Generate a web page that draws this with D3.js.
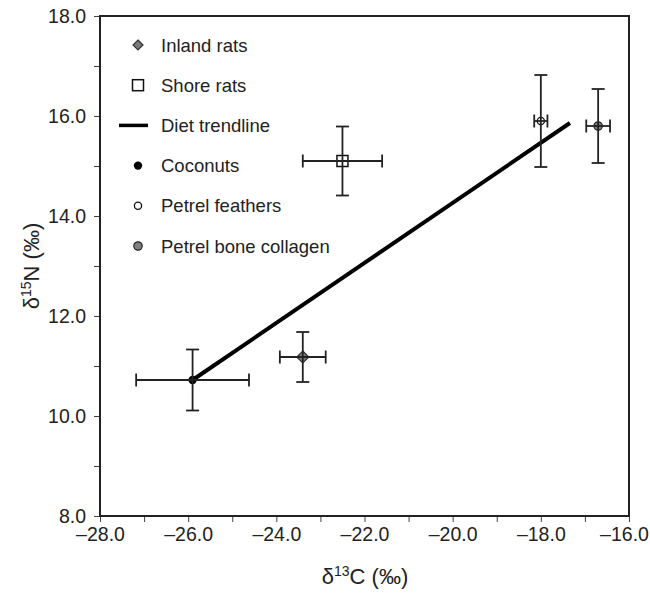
<!DOCTYPE html>
<html>
<head>
<meta charset="utf-8">
<script src="https://cdn.jsdelivr.net/npm/d3@7"></script>
<style>
  body { margin: 0; background: #fff; }
  svg { font-family: "Liberation Sans", Arial, Helvetica, sans-serif; }
</style>
</head>
<body>
<svg id="chart"></svg>
<script>
// data
var groups = ["Inland rats", "Shore rats", "Coconuts", "Petrel feathers", "Petrel bone collagen"];
var d13C = [-23.4, -22.5, -25.9, -18.0, -16.7];
var d13CErr = [0.52, 0.9, 1.28, 0.15, 0.27];
var d15N = [11.18, 15.1, 10.72, 15.9, 15.8];
var d15NErr = [0.5, 0.69, 0.61, 0.92, 0.74];
var trendC = [-25.9, -17.34];
var trendN = [10.72, 15.86];
var xTicks = [-28, -27, -26, -25, -24, -23, -22, -21, -20, -19, -18, -17, -16];
var yTicks = [8, 9, 10, 11, 12, 13, 14, 15, 16, 17, 18];

var width = 650, height = 593;
var plotL = 100, plotR = 629, plotT = 16, plotB = 516;

var svg = d3.select("#chart").attr("width", width).attr("height", height);

var x = d3.scaleLinear().domain([-28, -16]).range([plotL, plotR]);
var y = d3.scaleLinear().domain([8, 18]).range([plotB, plotT]);

function fmt(v) {
  if (v % 2 !== 0) return "";
  return (v < 0 ? "\u2013" + Math.abs(v).toFixed(1) : v.toFixed(1));
}

// axes
var xAxis = svg.append("g")
  .attr("transform", "translate(0," + plotB + ")")
  .call(d3.axisBottom(x).tickValues(xTicks).tickSize(6).tickPadding(5).tickFormat(fmt));
var yAxis = svg.append("g")
  .attr("transform", "translate(" + plotL + ",0)")
  .call(d3.axisLeft(y).tickValues(yTicks).tickSize(6).tickPadding(8).tickFormat(fmt));

[xAxis, yAxis].forEach(function (a) {
  a.select(".domain").remove();
  a.selectAll("line").attr("stroke", "#444").attr("stroke-width", 1);
  a.selectAll("text").attr("fill", "#222").style("font-size", "19.5px");
});
// keep the last x label inside the picture
xAxis.selectAll(".tick").filter(function (d) { return d === -16; })
  .select("text").attr("dx", "-5");

// frame
svg.append("rect")
  .attr("x", plotL).attr("y", plotT)
  .attr("width", plotR - plotL).attr("height", plotB - plotT)
  .attr("fill", "none").attr("stroke", "#222").attr("stroke-width", 2);

// trendline
svg.append("line")
  .attr("x1", x(trendC[0])).attr("y1", y(trendN[0]))
  .attr("x2", x(trendC[1])).attr("y2", y(trendN[1]))
  .attr("stroke", "#000").attr("stroke-width", 4);

// markers
function marker(g, i, cx, cy, legend) {
  if (i === 0) {
    var s = legend ? 5 : 6;
    g.append("path")
      .attr("d", "M" + cx + "," + (cy - s) + "L" + (cx + s) + "," + cy + "L" + cx + "," + (cy + s) + "L" + (cx - s) + "," + cy + "Z")
      .attr("fill", "#7a7a7a").attr("stroke", "#333").attr("stroke-width", 1.2);
  } else if (i === 1) {
    var h = 5.5;
    g.append("rect")
      .attr("x", cx - h).attr("y", cy - h).attr("width", 2 * h).attr("height", 2 * h)
      .attr("fill", "#fff").attr("stroke", "#111").attr("stroke-width", 1.5);
  } else if (i === 2) {
    g.append("circle").attr("cx", cx).attr("cy", cy).attr("r", 4.2).attr("fill", "#000");
  } else if (i === 3) {
    g.append("circle").attr("cx", cx).attr("cy", cy).attr("r", 3.6)
      .attr("fill", "#fff").attr("stroke", "#111").attr("stroke-width", 1.3);
  } else {
    g.append("circle").attr("cx", cx).attr("cy", cy).attr("r", 4.2)
      .attr("fill", "#808080").attr("stroke", "#222").attr("stroke-width", 1.2);
  }
}

var pts = svg.append("g");
groups.forEach(function (name, i) {
  marker(pts, i, x(d13C[i]), y(d15N[i]), false);
});

// error bars on top of markers
var eb = svg.append("g").attr("stroke", "#222").attr("stroke-width", 1.8);
var cap = 6.5;
groups.forEach(function (name, i) {
  var cx = x(d13C[i]), cy = y(d15N[i]);
  var x0 = x(d13C[i] - d13CErr[i]), x1 = x(d13C[i] + d13CErr[i]);
  var y0 = y(d15N[i] - d15NErr[i]), y1 = y(d15N[i] + d15NErr[i]);
  eb.append("line").attr("x1", x0).attr("x2", x1).attr("y1", cy).attr("y2", cy);
  eb.append("line").attr("x1", x0).attr("x2", x0).attr("y1", cy - cap).attr("y2", cy + cap);
  eb.append("line").attr("x1", x1).attr("x2", x1).attr("y1", cy - cap).attr("y2", cy + cap);
  eb.append("line").attr("x1", cx).attr("x2", cx).attr("y1", y0).attr("y2", y1);
  eb.append("line").attr("x1", cx - cap).attr("x2", cx + cap).attr("y1", y0).attr("y2", y0);
  eb.append("line").attr("x1", cx - cap).attr("x2", cx + cap).attr("y1", y1).attr("y2", y1);
});

// legend
var legendNames = ["Inland rats", "Shore rats", "Diet trendline", "Coconuts", "Petrel feathers", "Petrel bone collagen"];
var legendKey = [0, 1, -1, 2, 3, 4];
var lg = svg.append("g");
legendNames.forEach(function (name, j) {
  var ly = 45 + j * 40.2;
  if (legendKey[j] < 0) {
    lg.append("line").attr("x1", 119).attr("x2", 148).attr("y1", ly).attr("y2", ly)
      .attr("stroke", "#000").attr("stroke-width", 3.5);
  } else {
    marker(lg, legendKey[j], 138, ly, true);
  }
  lg.append("text").attr("x", 161).attr("y", ly).attr("dy", "0.36em")
    .attr("fill", "#222").style("font-size", "18.5px").text(name);
});

// axis titles
svg.append("text")
  .attr("x", 365).attr("y", 584)
  .attr("text-anchor", "middle").attr("fill", "#222").style("font-size", "22px")
  .html("\u03b4<tspan dy='-8' font-size='14px'>13</tspan><tspan dy='8'>C (\u2030)</tspan>");

svg.append("text")
  .attr("transform", "translate(39,266) rotate(-90)")
  .attr("text-anchor", "middle").attr("fill", "#222").style("font-size", "22px")
  .html("\u03b4<tspan dy='-8' font-size='14px'>15</tspan><tspan dy='8'>N (\u2030)</tspan>");
</script>
</body>
</html>
